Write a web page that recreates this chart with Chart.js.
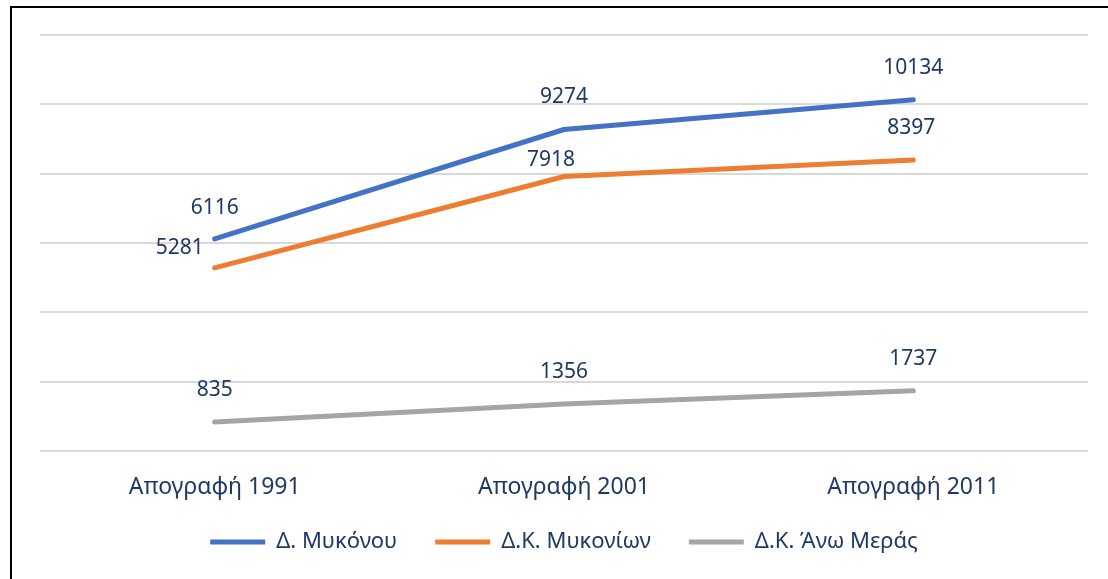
<!DOCTYPE html>
<html>
<head>
<meta charset="utf-8">
<script src="https://cdn.jsdelivr.net/npm/chart.js@4/dist/chart.umd.min.js"></script>
<style>
  html, body { margin: 0; padding: 0; background: #fff; }
  #wrap { position: relative; width: 1108px; height: 579px; overflow: hidden; }
  #frame { position: absolute; left: 10px; top: 6px; width: 1200px; height: 600px; border: 2px solid #000; box-sizing: border-box; }
  canvas { position: absolute; left: 0; top: 0; }
</style>
</head>
<body>
<div id="wrap">
  <div id="frame"></div>
  <canvas id="c" width="1108" height="579"></canvas>
</div>
<script>
const categories = ['Απογραφή 1991', 'Απογραφή 2001', 'Απογραφή 2011'];
const seriesNames = ['Δ. Μυκόνου', 'Δ.Κ. Μυκονίων', 'Δ.Κ. Άνω Μεράς'];
const mykonosDimos = [6116, 9274, 10134];
const mykonionKoinotita = [5281, 7918, 8397];
const anoMeraKoinotita = [835, 1356, 1737];
const yTicks = [0, 2000, 4000, 6000, 8000, 10000, 12000];

const colors = ['#4472C4', '#ED7D31', '#A5A5A5'];
const textColor = '#1F3864';
const fontFamily = '"Noto Sans", "Open Sans", sans-serif';

// label offsets (dx, dy) relative to each point, per dataset
const labelOffsets = [
  [[0, -31], [0, -32], [0, -32]],
  [[-35, -20], [-13, -16], [-2, -32]],
  [[0, -32], [0, -32], [0, -32]]
];

const labelPlugin = {
  id: 'pointLabels',
  afterDatasetsDraw(chart) {
    const ctx = chart.ctx;
    ctx.save();
    ctx.font = '21px ' + fontFamily;
    ctx.fillStyle = textColor;
    ctx.textAlign = 'center';
    ctx.textBaseline = 'middle';
    chart.data.datasets.forEach((ds, i) => {
      const meta = chart.getDatasetMeta(i);
      meta.data.forEach((pt, j) => {
        const off = labelOffsets[i][j];
        ctx.fillText(String(ds.data[j]), pt.x + off[0], pt.y + off[1]);
      });
    });
    ctx.restore();
  }
};

// move the legend up after layout (its large horizontal padding also adds vertical space)
const legendShift = {
  id: 'legendShift',
  afterLayout(chart) {
    const lg = chart.legend;
    if (lg) { lg.top -= 30; lg.bottom -= 30; }
  }
};

const seriesData = [mykonosDimos, mykonionKoinotita, anoMeraKoinotita];

new Chart(document.getElementById('c'), {
  type: 'line',
  data: {
    labels: categories,
    datasets: seriesData.map((d, i) => ({
      label: seriesNames[i],
      data: d,
      borderColor: colors[i],
      backgroundColor: colors[i],
      borderWidth: 5,
      borderCapStyle: 'round',
      borderJoinStyle: 'round',
      pointRadius: 0,
      pointHoverRadius: 0,
      tension: 0,
      pointStyle: 'line'
    }))
  },
  options: {
    responsive: false,
    animation: false,
    events: [],
    layout: { padding: { left: 40, right: 20, top: 35, bottom: -14 } },
    scales: {
      x: {
        offset: true,
        grid: { display: false, drawTicks: false },
        border: { display: false },
        ticks: { color: textColor, font: { family: fontFamily, size: 23 }, padding: 23 },
        afterFit(scale) { scale.height = 72; }
      },
      y: {
        min: 0,
        max: 12000,
        afterBuildTicks(scale) { scale.ticks = yTicks.map(v => ({ value: v })); },
        ticks: { display: false },
        grid: { color: '#D9D9D9', lineWidth: 2, drawTicks: false },
        border: { display: false }
      }
    },
    plugins: {
      legend: {
        position: 'bottom',
        labels: {
          usePointStyle: true,
          pointStyleWidth: 55,
          boxHeight: 20,
          padding: 38,
          color: textColor,
          font: { family: fontFamily, size: 22 }
        }
      },
      tooltip: { enabled: false }
    }
  },
  plugins: [labelPlugin, legendShift]
});
</script>
</body>
</html>
